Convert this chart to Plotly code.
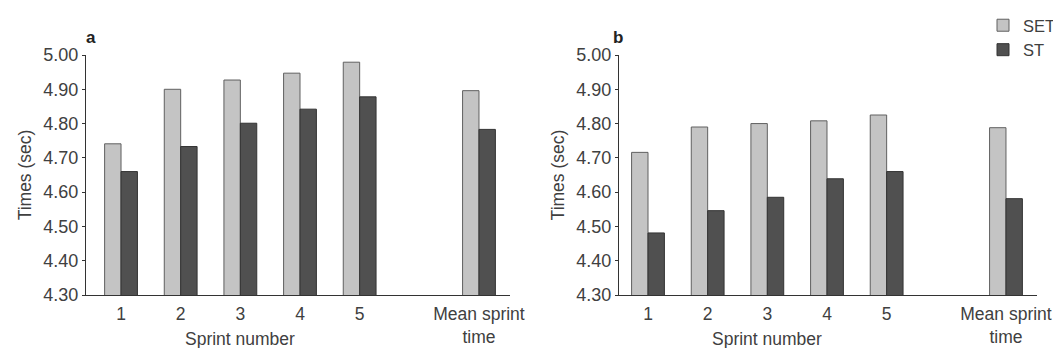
import plotly.graph_objects as go

categories = ["1", "2", "3", "4", "5", "Mean sprint<br>time"]
cat_pos = [0, 1, 2, 3, 4, 6]

set_a = [4.741, 4.900, 4.927, 4.947, 4.979, 4.896]
st_a = [4.660, 4.733, 4.801, 4.842, 4.878, 4.783]
set_b = [4.716, 4.790, 4.800, 4.808, 4.825, 4.788]
st_b = [4.481, 4.546, 4.585, 4.639, 4.660, 4.581]

FONT = "Liberation Sans, Arial, Helvetica, sans-serif"
TXT = "#404040"
SET_FILL = "#c4c4c4"
SET_LINE = "#606060"
ST_FILL = "#505050"
ST_LINE = "#333333"

fig = go.Figure()
for i, (sv, tv) in enumerate([(set_a, st_a), (set_b, st_b)]):
    xa = "x" if i == 0 else "x2"
    ya = "y" if i == 0 else "y2"
    fig.add_trace(go.Bar(x=cat_pos, y=sv, name="SET", xaxis=xa, yaxis=ya,
                         marker=dict(color=SET_FILL, line=dict(color=SET_LINE, width=1)),
                         showlegend=(i == 0)))
    fig.add_trace(go.Bar(x=cat_pos, y=tv, name="ST", xaxis=xa, yaxis=ya,
                         marker=dict(color=ST_FILL, line=dict(color=ST_LINE, width=1)),
                         showlegend=(i == 0)))

# figure drawn inside the page's default 8px body margin
W, H, OFF = 1053, 340, 8


def gx(px):
    return (px - OFF) / W


def gy(py):
    return 1 - (py - OFF) / H


ydom = [gy(295), gy(55)]
xdom_a = [gx(86), gx(510)]
xdom_b = [gx(619), gx(1037)]

common_x = dict(tickmode="array", tickvals=cat_pos, ticktext=categories,
                showgrid=False, zeroline=False, showline=True, linecolor="#333333",
                linewidth=1, ticks="", ticklabelstandoff=3,
                tickfont=dict(size=17.5, color=TXT, family=FONT))
common_y = dict(range=[4.3, 5.0], dtick=0.1, tick0=4.3, tickformat=".2f",
                showgrid=False, zeroline=False, showline=True, linecolor="#333333",
                linewidth=1, ticks="outside", ticklen=3, tickcolor="#333333",
                tickfont=dict(size=18, color=TXT, family=FONT),
                title=dict(text="Times (sec)", font=dict(size=17.5, color=TXT, family=FONT),
                           standoff=7))

fig.update_layout(
    width=W, height=H, autosize=False,
    margin=dict(l=0, r=0, t=0, b=0, autoexpand=False),
    paper_bgcolor="white", plot_bgcolor="white",
    barmode="group", bargap=0.45, bargroupgap=0,
    font=dict(family=FONT, color=TXT),
    xaxis=dict(domain=xdom_a, range=[-0.587, 6.52], anchor="y", **common_x),
    yaxis=dict(domain=ydom, anchor="x", **common_y),
    xaxis2=dict(domain=xdom_b, range=[-0.486, 6.52], anchor="y2", **common_x),
    yaxis2=dict(domain=ydom, anchor="x2", **common_y),
    legend=dict(x=1.0, y=1.0, xanchor="right", yanchor="top",
                font=dict(size=16.5, color=TXT, family=FONT),
                bgcolor="rgba(0,0,0,0)", tracegroupgap=0, itemwidth=30),
    annotations=[
        dict(text="<b>a</b>", x=gx(91), y=gy(37), xref="paper", yref="paper",
             xanchor="center", yanchor="middle", showarrow=False,
             font=dict(size=17, color="#222222", family=FONT)),
        dict(text="<b>b</b>", x=gx(618), y=gy(37), xref="paper", yref="paper",
             xanchor="center", yanchor="middle", showarrow=False,
             font=dict(size=17, color="#222222", family=FONT)),
        dict(text="Sprint number", x=2, y=gy(339), xref="x", yref="paper",
             xanchor="center", yanchor="middle", showarrow=False,
             font=dict(size=17.5, color=TXT, family=FONT)),
        dict(text="Sprint number", x=2, y=gy(339), xref="x2", yref="paper",
             xanchor="center", yanchor="middle", showarrow=False,
             font=dict(size=17.5, color=TXT, family=FONT)),
    ],
)

fig.write_html("out.html", config={"displayModeBar": False})
